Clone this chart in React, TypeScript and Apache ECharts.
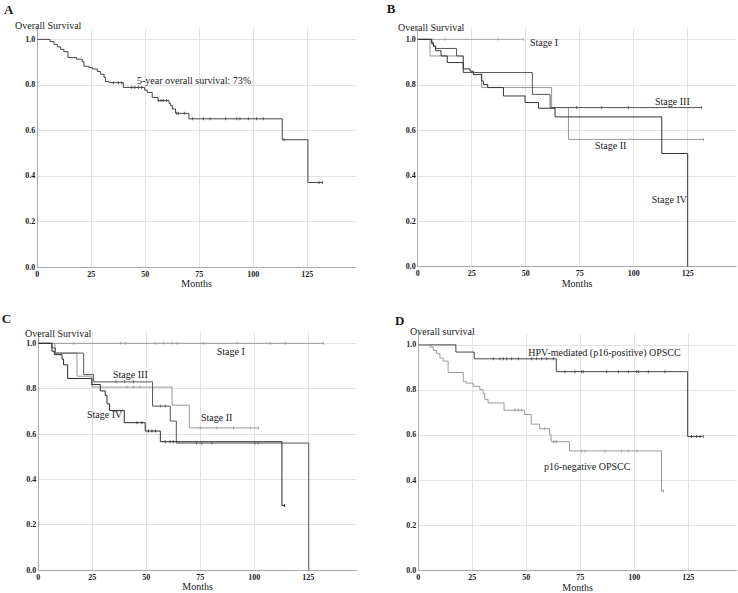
import React, { useEffect, useRef } from 'react';
import * as echarts from 'echarts';

// ---------- Tick labels ----------
const xTicks = [0, 25, 50, 75, 100, 125];
const yTicks = [0, 0.2, 0.4, 0.6, 0.8, 1.0];

// ---------- Panel A: overall ----------
const aTimes = [0, 5.9, 7.7, 9.3, 10.8, 12.3, 14.2, 18.2, 20.8, 21.6, 23.9, 25.5, 27.8, 29.3, 30.9, 31.6, 33.2, 39.8, 49.7, 50.9, 53.2, 55.9, 61.0, 61.7, 62.5, 64.0, 70.2, 113.4, 125.3, 132];
const aSurv = [1, 0.99, 0.978, 0.967, 0.956, 0.946, 0.92, 0.913, 0.902, 0.882, 0.876, 0.87, 0.859, 0.847, 0.833, 0.815, 0.81, 0.789, 0.777, 0.767, 0.745, 0.731, 0.719, 0.709, 0.694, 0.675, 0.651, 0.559, 0.371, 0.371];
const aCensor = [35.2, 37.5, 39.1, 43.7, 45.2, 46.8, 48.3, 56, 57.3, 58.3, 59.9, 64.5, 65.3, 68.1, 71.9, 76.9, 80, 87.2, 92.3, 93.8, 97.7, 101.5, 104.6, 114.2, 130.4, 132];

// ---------- Panel B: by stage ----------
const bStage1Times = [0, 49];
const bStage1Surv = [1, 1];
const bStage1Censor = [12.7, 37.3, 49];
const bStage2Times = [0, 5.7, 21.1, 29.6, 62.0, 69.8, 132.3];
const bStage2Surv = [1, 0.927, 0.854, 0.788, 0.70, 0.56, 0.56];
const bStage2Censor = [132.3];
const bStage3Times = [0, 6.5, 7.3, 8.3, 18.0, 21.1, 53.1, 61.3, 131.5];
const bStage3Surv = [1, 0.98, 0.97, 0.96, 0.927, 0.854, 0.758, 0.70, 0.70];
const bStage3Censor = [73.6, 85.2, 97.5, 131.5];
const bStage4Times = [0, 6.5, 7.3, 8.3, 10.8, 13.7, 21.1, 24.2, 25.8, 29.6, 30.4, 32.4, 39.7, 49.7, 55.9, 63.6, 113, 125];
const bStage4Surv = [1, 0.985, 0.97, 0.95, 0.927, 0.898, 0.87, 0.86, 0.845, 0.817, 0.802, 0.788, 0.751, 0.722, 0.697, 0.659, 0.498, 0];

// ---------- Panel C: by stage (second classification) ----------
const cStage1Times = [0, 132];
const cStage1Surv = [1, 1];
const cStage1Censor = [16.4, 38, 40.3, 54.2, 58, 61.9, 64.2, 76.5, 92, 107.4, 114.4, 132];
const cStage2Times = [0, 7.7, 17.9, 24.8, 61.9, 69.9, 102];
const cStage2Surv = [1, 0.957, 0.855, 0.807, 0.727, 0.627, 0.627];
const cStage2Censor = [41, 44, 47, 75, 82.7, 90.4, 98.1, 102];
const cStage3Times = [0, 6.3, 7.9, 21.0, 25.6, 52.9, 61.1, 63.9, 125.2];
const cStage3Surv = [1, 0.98, 0.957, 0.862, 0.83, 0.723, 0.657, 0.56, 0];
const cStage3Censor = [36, 40, 44, 56.5, 58.8, 73.3, 75.6, 80.3, 100.3, 101.8];
const cStage4Times = [0, 6.3, 7.4, 11, 11.7, 13.6, 24.8, 28.7, 31, 31.8, 33, 39.8, 49.5, 56.5, 112.8, 114];
const cStage4Surv = [1, 0.965, 0.95, 0.93, 0.905, 0.845, 0.818, 0.79, 0.77, 0.733, 0.704, 0.65, 0.613, 0.566, 0.285, 0.285];
const cStage4Censor = [45.7, 48, 51, 52.6, 54.2, 58.8, 61, 62.5, 114];

// ---------- Panel D: HPV status ----------
const dPosTimes = [0, 17.4, 25.9, 63.9, 124.7, 131.6];
const dPosSurv = [1, 0.968, 0.938, 0.881, 0.593, 0.593];
const dPosCensor = [34.7, 37.8, 39.4, 40.9, 43.2, 46.3, 52.5, 54.8, 57.1, 59.4, 62.5, 67.9, 72.5, 75.6, 76.4, 87.2, 92.6, 97.2, 101.1, 101.9, 106.5, 114.2, 126.5, 128.9, 130.4, 131.9];
const dNegTimes = [0, 5.4, 6.9, 8.5, 10, 11.5, 13.8, 20.8, 22.3, 25.4, 28.5, 30, 30.8, 32.3, 39.7, 49.2, 52.3, 56.2, 60.8, 61.5, 70, 112.6, 113.5];
const dNegSurv = [1, 0.99, 0.975, 0.961, 0.942, 0.928, 0.877, 0.838, 0.83, 0.816, 0.801, 0.783, 0.758, 0.742, 0.71, 0.691, 0.648, 0.628, 0.601, 0.57, 0.529, 0.351, 0.351];
const dNegCensor = [44.8, 46.3, 47.8, 58.6, 62.5, 63.3, 64, 75.6, 77.2, 86.4, 94.1, 97.2, 101.1, 113.5];

const SERIF = '"Liberation Serif", "Times New Roman", serif';

function survAt(times: number[], surv: number[], t: number) {
  let s = surv[0];
  for (let i = 0; i < times.length; i++) if (times[i] <= t) s = surv[i];
  return s;
}

function curve(idx: number, times: number[], surv: number[], color: string, censor: number[] = []) {
  const out: any[] = [
    {
      type: 'line',
      xAxisIndex: idx,
      yAxisIndex: idx,
      step: 'end',
      symbol: 'none',
      lineStyle: { color, width: 1 },
      data: times.map((t, i) => [t, surv[i]]),
      z: 3,
    },
  ];
  if (censor.length) {
    out.push({
      type: 'scatter',
      xAxisIndex: idx,
      yAxisIndex: idx,
      symbol: 'rect',
      symbolSize: [1, 3],
      itemStyle: { color, opacity: 0.85 },
      data: censor.map((t) => [t, survAt(times, surv, t)]),
      z: 4,
    });
  }
  return out;
}

const grids = [
  { left: 37.3, top: 28, width: 318.6, height: 239 },
  { left: 417.7, top: 28, width: 318.6, height: 238.7 },
  { left: 38.3, top: 332, width: 318.6, height: 238 },
  { left: 418.3, top: 333.6, width: 318.6, height: 239.1 },
];

function txt(text: string, x: number, y: number, size = 10, bold = false) {
  return {
    type: 'text',
    x,
    y,
    style: {
      text,
      font: `${bold ? 'bold ' : ''}${size}px ${SERIF}`,
      fill: '#1a1a1a',
      align: 'left',
      verticalAlign: 'middle',
    },
    z: 10,
  };
}

export default function App() {
  const ref = useRef<HTMLDivElement>(null);
  useEffect(() => {
    if (!ref.current) return;
    const chart = echarts.init(ref.current, undefined, { renderer: 'svg' });
    const xAxis = grids.map((_, i) => ({
      type: 'value',
      gridIndex: i,
      min: 0,
      max: 147.5,
      name: 'Months',
      nameLocation: 'middle',
      nameGap: 10,
      nameTextStyle: { fontFamily: SERIF, fontSize: 10, color: '#1a1a1a' },
      axisLine: { show: true, lineStyle: { color: '#aaaaaa', width: 1 } },
      axisTick: { show: false, customValues: xTicks },
      axisLabel: {
        customValues: xTicks,
        fontFamily: SERIF,
        fontWeight: 'bold',
        fontSize: 8,
        color: '#1a1a1a',
        margin: 3,
      },
      splitLine: { show: true, lineStyle: { color: '#e2e2e2', width: 1 } },
    }));
    const yAxis = grids.map((_, i) => ({
      type: 'value',
      gridIndex: i,
      min: 0,
      max: 1.05,
      axisLine: { show: true, lineStyle: { color: '#aaaaaa', width: 1 } },
      axisTick: { show: false, customValues: yTicks },
      axisLabel: {
        customValues: yTicks,
        formatter: (v: number) => v.toFixed(1),
        fontFamily: SERIF,
        fontWeight: 'bold',
        fontSize: 8,
        color: '#1a1a1a',
        margin: 2,
      },
      splitLine: { show: true, lineStyle: { color: '#e2e2e2', width: 1 } },
    }));
    const series = [
      ...curve(0, aTimes, aSurv, '#444444', aCensor),
      ...curve(1, bStage1Times, bStage1Surv, '#aaaaaa', bStage1Censor),
      ...curve(1, bStage2Times, bStage2Surv, '#999999', bStage2Censor),
      ...curve(1, bStage3Times, bStage3Surv, '#555555', bStage3Censor),
      ...curve(1, bStage4Times, bStage4Surv, '#333333'),
      ...curve(2, cStage1Times, cStage1Surv, '#999999', cStage1Censor),
      ...curve(2, cStage2Times, cStage2Surv, '#999999', cStage2Censor),
      ...curve(2, cStage3Times, cStage3Surv, '#555555', cStage3Censor),
      ...curve(2, cStage4Times, cStage4Surv, '#2a2a2a', cStage4Censor),
      ...curve(3, dPosTimes, dPosSurv, '#444444', dPosCensor),
      ...curve(3, dNegTimes, dNegSurv, '#999999', dNegCensor),
    ];
    chart.setOption({
      animation: false,
      backgroundColor: '#ffffff',
      grid: grids,
      xAxis,
      yAxis,
      series,
      graphic: [
        txt('A', 4, 9, 13, true),
        txt('B', 386.7, 8, 13, true),
        txt('C', 1.7, 318, 13, true),
        txt('D', 395, 320, 13, true),
        txt('Overall Survival', 15, 25),
        txt('Overall Survival', 398, 27.7),
        txt('Overall Survival', 25, 333.3),
        txt('Overall survival', 410, 331.7),
        txt('5-year overall survival: 73%', 137, 80),
        txt('Stage I', 530, 42.7),
        txt('Stage III', 655, 101.7),
        txt('Stage II', 595, 145.7),
        txt('Stage IV', 651.7, 199),
        txt('Stage I', 216.7, 351.7),
        txt('Stage III', 113, 374),
        txt('Stage IV', 87, 414),
        txt('Stage II', 201, 417),
        txt('HPV-mediated (p16-positive) OPSCC', 528.3, 352.7),
        txt('p16-negative OPSCC', 544, 466.7),
      ],
    });
    return () => chart.dispose();
  }, []);
  return (
    <div
      ref={ref}
      style={{ position: 'absolute', left: 0, top: 0, width: 738, height: 593, background: '#fff' }}
    />
  );
}
